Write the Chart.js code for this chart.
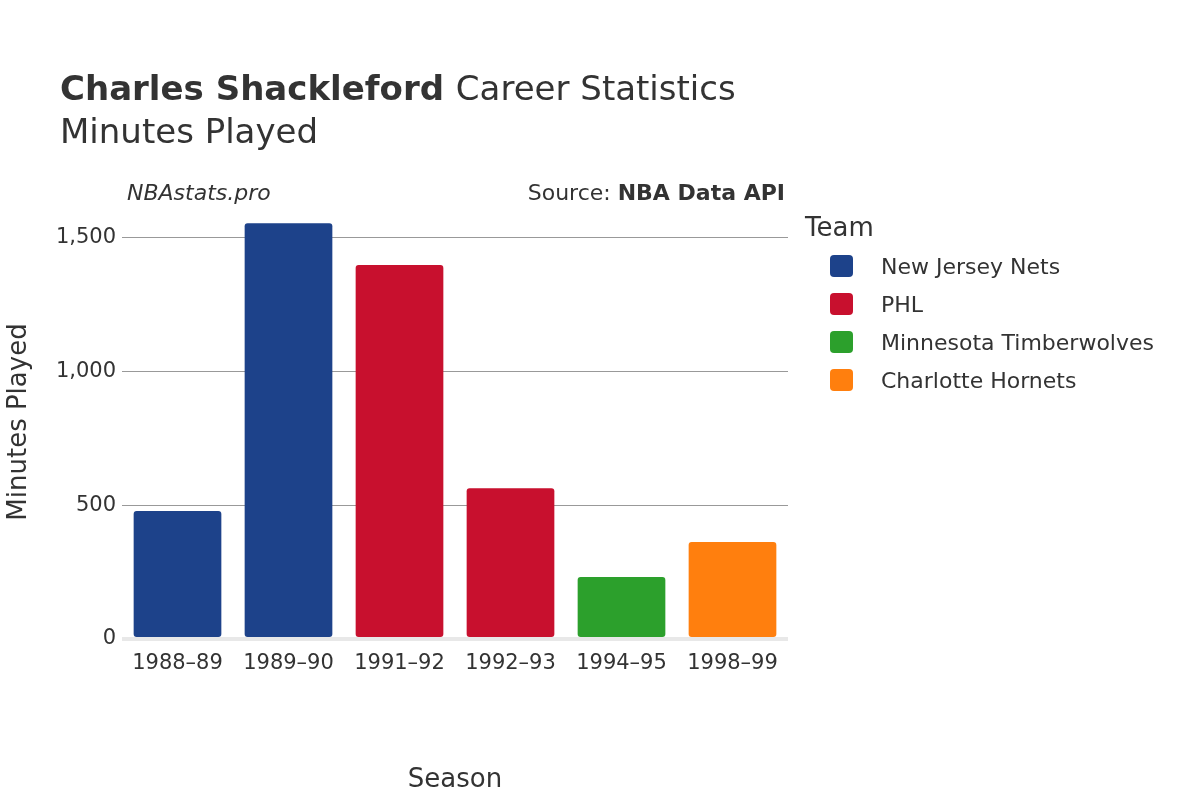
<!DOCTYPE html>
<html>
<head>
<meta charset="UTF-8">
<script src="https://cdn.jsdelivr.net/npm/chart.js@4"></script>
<style>
*{margin:0;padding:0}
body{background:#fff;width:1200px;height:800px;overflow:hidden}
</style>
</head>
<body>
<canvas id="c" width="1200" height="800"></canvas>
<script>
var seasons = ["1988–89","1989–90","1991–92","1992–93","1994–95","1998–99"];
var teams = ["New Jersey Nets","PHL","Minnesota Timberwolves","Charlotte Hornets"];
var colors = ["#1d428a","#c8102e","#2ca02c","#ff7f0e"];
var nets = [478,1552,null,null,null,null];
var phl = [null,null,1396,563,null,null];
var wolves = [null,null,null,null,231,null];
var hornets = [null,null,null,null,null,362];
var yTicks = [0,500,1000,1500];

var font = "'DejaVu Sans', sans-serif";
var series = [nets, phl, wolves, hornets];
var datasets = series.map(function(d,i){
	return {label:teams[i], data:d, backgroundColor:colors[i], borderRadius:3, borderSkipped:false,
		barPercentage:0.79, categoryPercentage:1, skipNull:true};
});

// titles and legend
var deco = {
	id:"deco",
	afterDraw:function(ch){
		var ctx = ch.ctx;
		ctx.save();
		ctx.fillStyle = "#333";
		ctx.textBaseline = "alphabetic";
		ctx.textAlign = "left";
		ctx.font = "bold 34px " + font;
		ctx.fillText("Charles Shackleford", 60, 100);
		var w = ctx.measureText("Charles Shackleford ").width;
		ctx.font = "34px " + font;
		ctx.fillText("Career Statistics", 60 + w, 100);
		ctx.fillText("Minutes Played", 60, 143);
		ctx.font = "italic 22px " + font;
		ctx.fillText("NBAstats.pro", 127, 200);
		ctx.textAlign = "right";
		ctx.font = "bold 22px " + font;
		ctx.fillText("NBA Data API", 785, 200);
		var bw = ctx.measureText("NBA Data API").width;
		ctx.font = "22px " + font;
		ctx.fillText("Source: ", 785 - bw, 200);
		ctx.textAlign = "left";
		ctx.font = "26px " + font;
		ctx.fillText("Team", 805, 236);
		ctx.font = "22px " + font;
		teams.forEach(function(t,i){
			var y = 266 + 38*i;
			ctx.fillStyle = colors[i];
			ctx.beginPath();
			ctx.roundRect(830, y-11, 23, 22, 4);
			ctx.fill();
			ctx.fillStyle = "#333";
			ctx.fillText(t, 881, y+8);
		});
		ctx.restore();
	}
};

new Chart(document.getElementById("c"), {
	type:"bar",
	data:{labels:seasons, datasets:datasets},
	options:{
		responsive:false,
		animation:false,
		layout:{padding:{top:205,right:412,bottom:0,left:0}},
		plugins:{legend:{display:false}, tooltip:{enabled:false}},
		scales:{
			x:{
				stacked:true,
				grid:{display:false},
				border:{display:false},
				ticks:{color:"#333", font:{family:font,size:21}, maxRotation:0, padding:4},
				title:{display:true, text:"Season", color:"#333", font:{family:font,size:26}, padding:{top:28}},
				afterFit:function(s){ s.height = 161; }
			},
			y:{
				stacked:true,
				min:0, max:1620,
				afterBuildTicks:function(s){ s.ticks = yTicks.map(function(v){return {value:v};}); },
				grid:{
					color:function(c){ return c.tick && c.tick.value===0 ? "#e8e8e8" : "#999"; },
					lineWidth:function(c){ return c.tick && c.tick.value===0 ? 4 : 1; },
					drawTicks:false
				},
				border:{display:false},
				ticks:{color:"#333", font:{family:font,size:21}, padding:6},
				title:{display:true, text:"Minutes Played", color:"#333", font:{family:font,size:26}, padding:{bottom:20}},
				afterFit:function(s){ s.width = 122; }
			}
		}
	},
	plugins:[deco]
});
</script>
</body>
</html>
